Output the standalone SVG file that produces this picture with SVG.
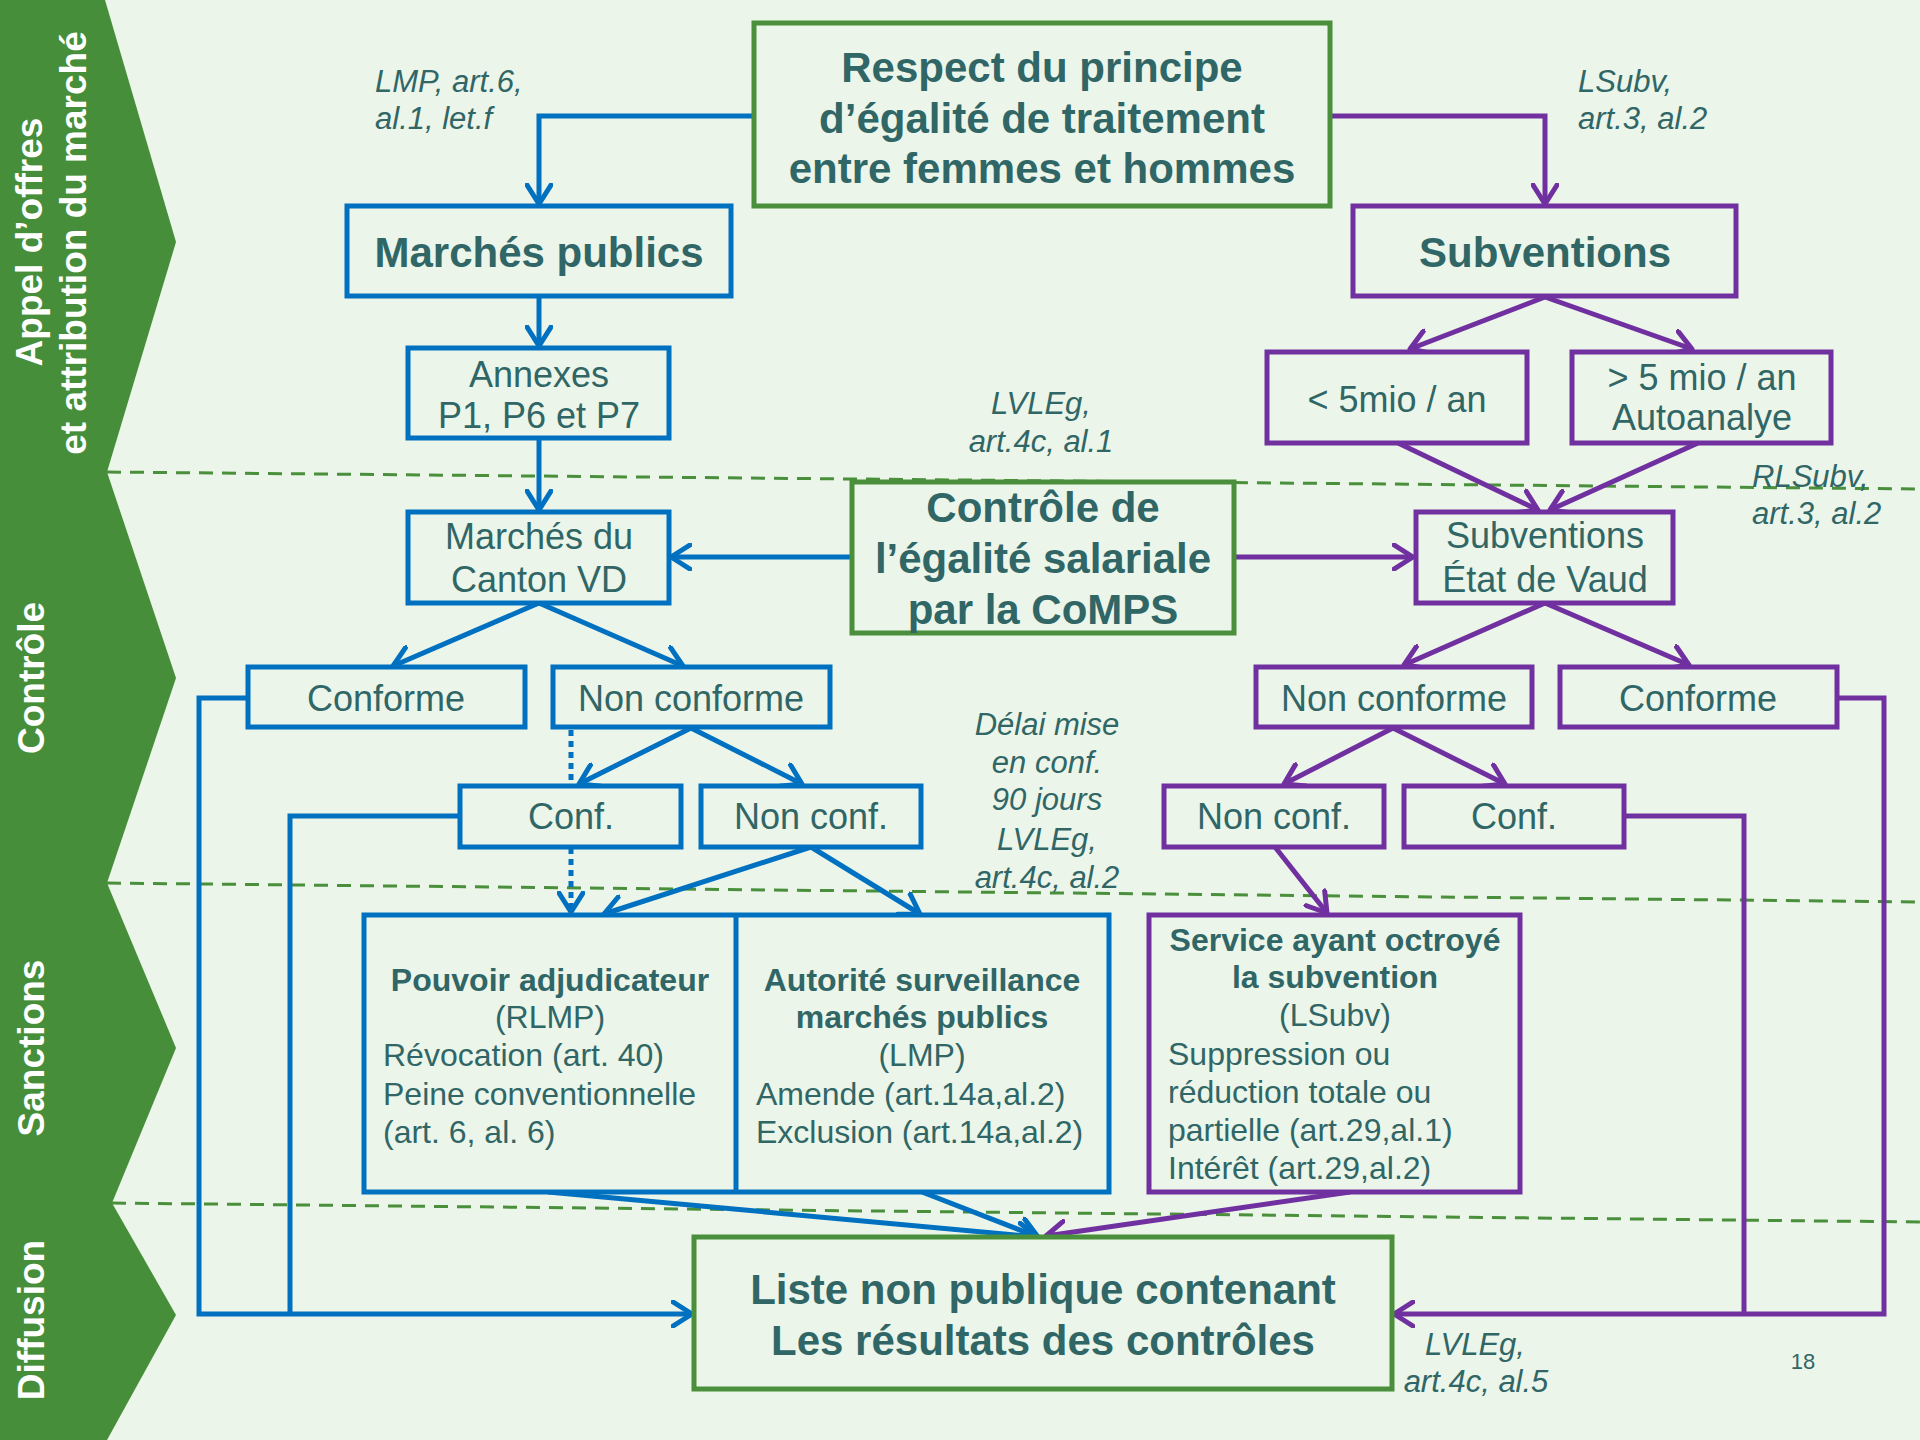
<svg xmlns="http://www.w3.org/2000/svg" width="1920" height="1440" viewBox="0 0 1920 1440">
<defs>
<style>
.bg{fill:#EBF5E9}
.band{fill:#468E3A}
.bl{font-family:"Liberation Sans",Arial,sans-serif;font-weight:bold;font-size:37px;fill:#FFFFFF;text-anchor:middle}
.dash{stroke:#4A8F3B;stroke-width:3;stroke-dasharray:14 9;fill:none}
.nb{fill:#EBF5E9;stroke:#0070C0;stroke-width:5}
.np{fill:#EBF5E9;stroke:#7030A0;stroke-width:5}
.ng{fill:#EBF5E9;stroke:#4A8F3B;stroke-width:5}
.t{font-family:"Liberation Sans",Arial,sans-serif;fill:#306666}
.big{font-size:42px;font-weight:bold;text-anchor:middle}
.med{font-size:36px;text-anchor:middle}
.sm{font-size:32px}
.smb{font-size:32px;font-weight:bold;text-anchor:middle}
.smc{font-size:32px;text-anchor:middle}
.it{font-size:31px;font-style:italic}
.itc{font-size:31px;font-style:italic;text-anchor:middle}
.cb{fill:none;stroke:#0070C0;stroke-width:5;stroke-linejoin:miter}
.cp{fill:none;stroke:#7030A0;stroke-width:5;stroke-linejoin:miter}
.dot{fill:none;stroke:#0070C0;stroke-width:5;stroke-dasharray:6 5}
</style>
<marker id="ab" viewBox="0 0 24 28" refX="21" refY="14" markerWidth="24" markerHeight="28" markerUnits="userSpaceOnUse" orient="auto"><path d="M2,2 L21,14 L2,26" fill="none" stroke="#0070C0" stroke-width="5" stroke-linecap="round" stroke-linejoin="round"/></marker>
<marker id="ap" viewBox="0 0 24 28" refX="21" refY="14" markerWidth="24" markerHeight="28" markerUnits="userSpaceOnUse" orient="auto"><path d="M2,2 L21,14 L2,26" fill="none" stroke="#7030A0" stroke-width="5" stroke-linecap="round" stroke-linejoin="round"/></marker>
</defs>
<rect class="bg" x="0" y="0" width="1920" height="1440"/>

<g id="dashed-lines">
<line class="dash" x1="107" y1="472" x2="1920" y2="489"/>
<line class="dash" x1="107" y1="883" x2="1920" y2="902"/>
<line class="dash" x1="112" y1="1203" x2="1920" y2="1222"/>
</g>

<g id="phase-band">
<polygon class="band" points="0,0 105,0 176,242 107,472 0,472"/>
<polygon class="band" points="0,472 107,472 176,678 107,883 0,883"/>
<polygon class="band" points="0,883 107,883 176,1048 112,1203 0,1203"/>
<polygon class="band" points="0,1203 112,1203 176,1315 107,1440 0,1440"/>
<text class="bl" transform="translate(42,242) rotate(-90)">Appel d’offres</text>
<text class="bl" transform="translate(86,243) rotate(-90)">et attribution du marché</text>
<text class="bl" transform="translate(44,678) rotate(-90)">Contrôle</text>
<text class="bl" transform="translate(44,1048) rotate(-90)">Sanctions</text>
<text class="bl" transform="translate(44,1320) rotate(-90)">Diffusion</text>
</g>

<g id="connectors">
<path class="cb" d="M754,116 H539 V204" marker-end="url(#ab)"/>
<path class="cb" d="M539,296 V346" marker-end="url(#ab)"/>
<path class="cb" d="M539,438 V510" marker-end="url(#ab)"/>
<path class="cb" d="M851,557 H671" marker-end="url(#ab)"/>
<path class="cb" d="M539,603 L393,666" marker-end="url(#ab)"/>
<path class="cb" d="M539,603 L683,666" marker-end="url(#ab)"/>
<path class="cb" d="M691,728 L579,784" marker-end="url(#ab)"/>
<path class="cb" d="M691,728 L802,784" marker-end="url(#ab)"/>
<path class="dot" d="M571,730 V786"/>
<path class="dot" d="M571,848 V912" marker-end="url(#ab)"/>
<path class="cb" d="M811,847 L604,914" marker-end="url(#ab)"/>
<path class="cb" d="M811,847 L920,914" marker-end="url(#ab)"/>
<path class="cb" d="M548,1192 L1038,1237" marker-end="url(#ab)"/>
<path class="cb" d="M922,1192 L1038,1237" marker-end="url(#ab)"/>
<path class="cb" d="M248,698 H199 V1314 H692" marker-end="url(#ab)"/>
<path class="cb" d="M460,816 H290 V1314"/>
<path class="cp" d="M1330,116 H1545 V204" marker-end="url(#ap)"/>
<path class="cp" d="M1545,297 L1410,349" marker-end="url(#ap)"/>
<path class="cp" d="M1545,297 L1692,349" marker-end="url(#ap)"/>
<path class="cp" d="M1398,443 L1538,510" marker-end="url(#ap)"/>
<path class="cp" d="M1698,443 L1550,510" marker-end="url(#ap)"/>
<path class="cp" d="M1234,557 H1413" marker-end="url(#ap)"/>
<path class="cp" d="M1545,603 L1404,665" marker-end="url(#ap)"/>
<path class="cp" d="M1545,603 L1689,665" marker-end="url(#ap)"/>
<path class="cp" d="M1393,728 L1284,784" marker-end="url(#ap)"/>
<path class="cp" d="M1393,728 L1505,784" marker-end="url(#ap)"/>
<path class="cp" d="M1275,847 L1327,913" marker-end="url(#ap)"/>
<path class="cp" d="M1350,1192 L1046,1236" marker-end="url(#ap)"/>
<path class="cp" d="M1624,816 H1744 V1314"/>
<path class="cp" d="M1837,698 H1884 V1314 H1394" marker-end="url(#ap)"/>
</g>

<g id="node-respect">
<rect class="ng" x="754" y="23" width="576" height="183"/>
<text class="t big" x="1042" y="82">Respect du principe</text>
<text class="t big" x="1042" y="133">d’égalité de traitement</text>
<text class="t big" x="1042" y="183">entre femmes et hommes</text>
</g>
<g id="node-marches-publics">
<rect class="nb" x="347" y="206" width="384" height="90"/>
<text class="t big" x="539" y="267">Marchés publics</text>
</g>
<g id="node-subventions">
<rect class="np" x="1353" y="206" width="383" height="90"/>
<text class="t big" x="1545" y="267">Subventions</text>
</g>
<g id="node-annexes">
<rect class="nb" x="408" y="348" width="261" height="90"/>
<text class="t med" x="539" y="387">Annexes</text>
<text class="t med" x="539" y="428">P1, P6 et P7</text>
</g>
<g id="node-moins5">
<rect class="np" x="1267" y="352" width="260" height="91"/>
<text class="t med" x="1397" y="412">&lt; 5mio / an</text>
</g>
<g id="node-plus5">
<rect class="np" x="1572" y="352" width="259" height="91"/>
<text class="t med" x="1702" y="390">&gt; 5 mio / an</text>
<text class="t med" x="1702" y="430">Autoanalye</text>
</g>
<g id="node-controle">
<rect class="ng" x="852" y="482" width="382" height="151"/>
<text class="t big" x="1043" y="522">Contrôle de</text>
<text class="t big" x="1043" y="573">l’égalité salariale</text>
<text class="t big" x="1043" y="624">par la CoMPS</text>
</g>
<g id="node-marches-canton">
<rect class="nb" x="408" y="512" width="261" height="91"/>
<text class="t med" x="539" y="549">Marchés du</text>
<text class="t med" x="539" y="592">Canton VD</text>
</g>
<g id="node-subv-etat">
<rect class="np" x="1416" y="512" width="257" height="91"/>
<text class="t med" x="1545" y="548">Subventions</text>
<text class="t med" x="1545" y="592">État de Vaud</text>
</g>
<g id="node-conforme-b">
<rect class="nb" x="248" y="667" width="277" height="60"/>
<text class="t med" x="386" y="711">Conforme</text>
</g>
<g id="node-nonconforme-b">
<rect class="nb" x="553" y="667" width="277" height="60"/>
<text class="t med" x="691" y="711">Non conforme</text>
</g>
<g id="node-conf-b">
<rect class="nb" x="460" y="786" width="221" height="61"/>
<text class="t med" x="571" y="829">Conf.</text>
</g>
<g id="node-nonconf-b">
<rect class="nb" x="701" y="786" width="220" height="61"/>
<text class="t med" x="811" y="829">Non conf.</text>
</g>
<g id="node-nonconforme-p">
<rect class="np" x="1256" y="667" width="276" height="60"/>
<text class="t med" x="1394" y="711">Non conforme</text>
</g>
<g id="node-conforme-p">
<rect class="np" x="1560" y="667" width="277" height="60"/>
<text class="t med" x="1698" y="711">Conforme</text>
</g>
<g id="node-nonconf-p">
<rect class="np" x="1164" y="786" width="220" height="61"/>
<text class="t med" x="1274" y="829">Non conf.</text>
</g>
<g id="node-conf-p">
<rect class="np" x="1404" y="786" width="220" height="61"/>
<text class="t med" x="1514" y="829">Conf.</text>
</g>
<g id="node-sanctions-mp">
<rect class="nb" x="364" y="915" width="745" height="277"/>
<line x1="736" y1="915" x2="736" y2="1192" stroke="#0070C0" stroke-width="5"/>
<text class="t smb" x="550" y="991">Pouvoir adjudicateur</text>
<text class="t smc" x="550" y="1028">(RLMP)</text>
<text class="t sm" x="383" y="1066">Révocation (art. 40)</text>
<text class="t sm" x="383" y="1105">Peine conventionnelle</text>
<text class="t sm" x="383" y="1143">(art. 6, al. 6)</text>
<text class="t smb" x="922" y="991">Autorité surveillance</text>
<text class="t smb" x="922" y="1028">marchés publics</text>
<text class="t smc" x="922" y="1066">(LMP)</text>
<text class="t sm" x="756" y="1105">Amende (art.14a,al.2)</text>
<text class="t sm" x="756" y="1143">Exclusion (art.14a,al.2)</text>
</g>
<g id="node-service">
<rect class="np" x="1149" y="915" width="371" height="277"/>
<text class="t smb" x="1335" y="951">Service ayant octroyé</text>
<text class="t smb" x="1335" y="988">la subvention</text>
<text class="t smc" x="1335" y="1026">(LSubv)</text>
<text class="t sm" x="1168" y="1065">Suppression ou</text>
<text class="t sm" x="1168" y="1103">réduction totale ou</text>
<text class="t sm" x="1168" y="1141">partielle (art.29,al.1)</text>
<text class="t sm" x="1168" y="1179">Intérêt (art.29,al.2)</text>
</g>
<g id="node-liste">
<rect class="ng" x="694" y="1237" width="698" height="152"/>
<text class="t big" x="1043" y="1304">Liste non publique contenant</text>
<text class="t big" x="1043" y="1355">Les résultats des contrôles</text>
</g>

<g id="annotations">
<text class="t it" x="375" y="92">LMP, art.6,</text>
<text class="t it" x="375" y="129">al.1, let.f</text>
<text class="t it" x="1578" y="92">LSubv,</text>
<text class="t it" x="1578" y="129">art.3, al.2</text>
<text class="t itc" x="1041" y="414">LVLEg,</text>
<text class="t itc" x="1041" y="452">art.4c, al.1</text>
<text class="t it" x="1752" y="487">RLSubv,</text>
<text class="t it" x="1752" y="524">art.3, al.2</text>
<text class="t itc" x="1047" y="735">Délai mise</text>
<text class="t itc" x="1047" y="773">en conf.</text>
<text class="t itc" x="1047" y="810">90 jours</text>
<text class="t itc" x="1047" y="850">LVLEg,</text>
<text class="t itc" x="1047" y="888">art.4c, al.2</text>
<text class="t itc" x="1475" y="1355">LVLEg,</text>
<text class="t itc" x="1476" y="1392">art.4c, al.5</text>
<text class="t" x="1803" y="1369" font-size="22" text-anchor="middle">18</text>
</g>
</svg>
